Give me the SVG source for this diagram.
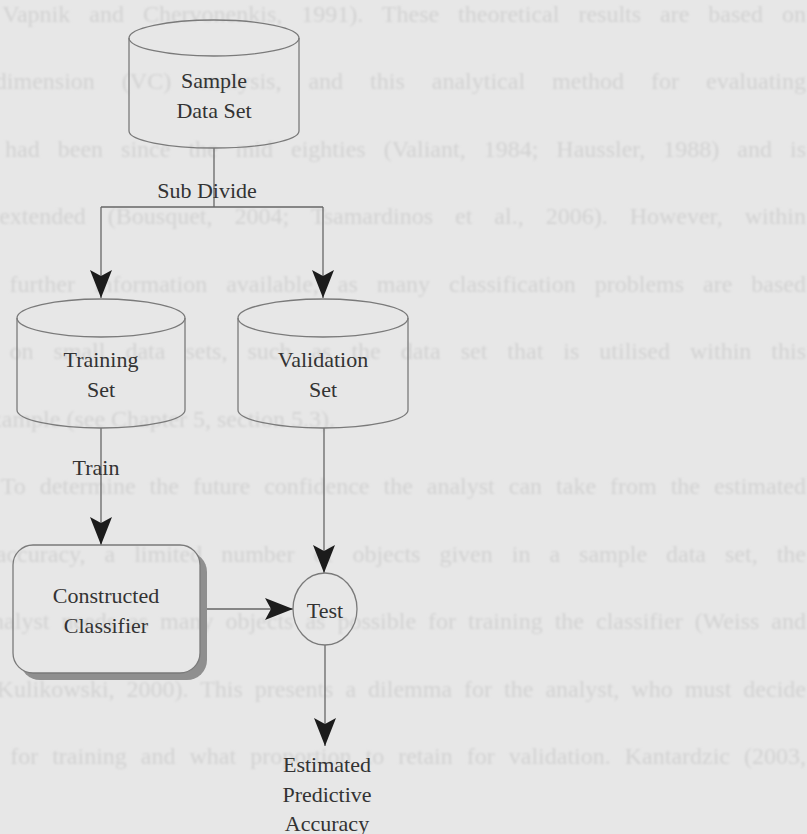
<svg xmlns="http://www.w3.org/2000/svg" width="807" height="834" viewBox="0 0 807 834">
  <style>
    .page { font-family: "Liberation Serif", "Times New Roman", serif; font-size: 24px; fill: #d2d2d2; text-anchor: end; }
    .shape { fill: none; stroke: #7a7a7a; stroke-width: 1.3; }
    .label { font-family: "Liberation Serif", "Times New Roman", serif; font-size: 22px; fill: #333333; text-anchor: middle; }
    .wire { fill: none; stroke: #666666; stroke-width: 1.3; }
  </style>
  <defs>
    <marker id="head" markerUnits="userSpaceOnUse" markerWidth="30" markerHeight="22" refX="28" refY="11" orient="auto" viewBox="0 0 30 22">
      <path d="M0,0 L28,11 L0,22 L6,11 Z" fill="#1c1c1c"/>
    </marker>
    <mask id="shadow-cut">
      <rect x="0" y="0" width="807" height="834" fill="#fff"/>
      <path d="M33,545 H180 A20,20 0 0 1 200,565 V653 A20,20 0 0 1 180,673 H33 A20,20 0 0 1 13,653 V565 A20,20 0 0 1 33,545 Z" fill="#000"/>
    </mask>
    <filter id="soft" x="-5%" y="-50%" width="110%" height="200%">
      <feGaussianBlur stdDeviation="0.9"/>
    </filter>
  </defs>

  <rect x="0" y="0" width="807" height="834" fill="#e7e7e7"/>

  <!-- faint print showing through from the facing page -->
  <g id="page-text" class="page" filter="url(#soft)">
    <text x="806" y="22" word-spacing="13">Vapnik and Chervonenkis, 1991). These theoretical results are based on</text>
    <text x="806" y="89" word-spacing="21">dimension (VC) analysis, and this analytical method for evaluating</text>
    <text x="806" y="157" word-spacing="12">had been since the mid eighties (Valiant, 1984; Haussler, 1988) and is</text>
    <text x="806" y="224" word-spacing="16">extended (Bousquet, 2004; Tsamardinos et al., 2006). However, within</text>
    <text x="806" y="292" word-spacing="13">further information available, as many classification problems are based</text>
    <text x="806" y="359" word-spacing="14">on small data sets, such as the data set that is utilised within this</text>
    <text x="335" y="427">example (see Chapter 5, section 5.3).</text>
    <text x="806" y="494" word-spacing="8">To determine the future confidence the analyst can take from the estimated</text>
    <text x="806" y="562" word-spacing="13">accuracy, a limited number of objects given in a sample data set, the</text>
    <text x="806" y="629" word-spacing="6">analyst needs as many objects as possible for training the classifier (Weiss and</text>
    <text x="806" y="697" word-spacing="6">Kulikowski, 2000). This presents a dilemma for the analyst, who must decide</text>
    <text x="806" y="764" word-spacing="8">for training and what proportion to retain for validation. Kantardzic (2003,</text>
  </g>

  <!-- connectors -->
  <g id="connectors" class="wire">
    <path d="M214,148 V207"/>
    <path d="M101,207 H323"/>
    <path d="M101,207 V298" marker-end="url(#head)"/>
    <path d="M323,207 V298" marker-end="url(#head)"/>
    <path d="M101,428 V545" marker-end="url(#head)"/>
    <path d="M324,428 V573" marker-end="url(#head)"/>
    <path d="M200,609 H293" marker-end="url(#head)"/>
    <path d="M325,645 V746" marker-end="url(#head)"/>
  </g>

  <g id="sample-data-set">
    <ellipse class="shape" cx="214" cy="38" rx="85" ry="18"/>
    <path class="shape" d="M129,38 V131 A85,17 0 0 0 299,131 V38"/>
    <text class="label" x="214" y="88">Sample</text>
    <text class="label" x="214" y="118">Data Set</text>
  </g>

  <g id="sub-divide-label">
    <text class="label" x="207" y="198">Sub Divide</text>
  </g>

  <g id="training-set">
    <ellipse class="shape" cx="101" cy="318" rx="84" ry="19"/>
    <path class="shape" d="M17,318 V410 A84,18 0 0 0 185,410 V318"/>
    <text class="label" x="101" y="367">Training</text>
    <text class="label" x="101" y="397">Set</text>
  </g>

  <g id="validation-set">
    <ellipse class="shape" cx="323" cy="318" rx="85" ry="19"/>
    <path class="shape" d="M238,318 V410 A85,18 0 0 0 408,410 V318"/>
    <text class="label" x="323" y="367">Validation</text>
    <text class="label" x="323" y="397">Set</text>
  </g>

  <g id="train-label">
    <text class="label" x="96" y="475">Train</text>
  </g>

  <g id="constructed-classifier">
    <path d="M40,552 H187 A20,20 0 0 1 207,572 V660 A20,20 0 0 1 187,680 H40 A20,20 0 0 1 20,660 V572 A20,20 0 0 1 40,552 Z" fill="#8f8f8f" mask="url(#shadow-cut)"/>
    <path class="shape" d="M33,545 H180 A20,20 0 0 1 200,565 V653 A20,20 0 0 1 180,673 H33 A20,20 0 0 1 13,653 V565 A20,20 0 0 1 33,545 Z"/>
    <text class="label" x="106" y="603">Constructed</text>
    <text class="label" x="106" y="633">Classifier</text>
  </g>

  <g id="test">
    <ellipse class="shape" cx="325" cy="609" rx="32" ry="36"/>
    <text class="label" x="325" y="618">Test</text>
  </g>

  <g id="estimated-accuracy">
    <text class="label" x="327" y="772">Estimated</text>
    <text class="label" x="327" y="802">Predictive</text>
    <text class="label" x="327" y="831">Accuracy</text>
  </g>
</svg>
